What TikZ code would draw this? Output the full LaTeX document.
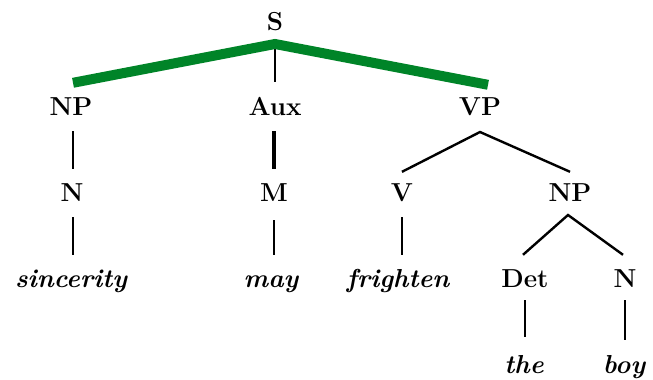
\documentclass[tikz,border=0pt]{standalone}
\usepackage{fontspec}
\definecolor{treegreen}{RGB}{0,132,40}
\begin{document}
\begin{tikzpicture}[x=1pt,y=-1pt,
  lab/.style={font=\fontsize{26}{30}\selectfont\bfseries, text height=17pt, text depth=0pt, inner sep=0pt, anchor=base},
  word/.style={font=\fontsize{26}{30}\selectfont\bfseries\itshape, text height=17pt, text depth=0pt, inner sep=0pt, anchor=base},
  bar/.style={line width=2.2pt, shorten <=16pt, shorten >=15pt},
  branch/.style={line width=2.4pt, line join=miter},
  greenline/.style={treegreen, line width=10pt, line join=miter}]
\useasboundingbox (0,0) rectangle (653,380);
% nodes
\node[lab] (s) at (275,30) {S};
\node[lab] (np1) at (71,115) {NP};
\node[lab] (aux) at (275,115) {Aux};
\node[lab] (vp) at (480,115) {VP};
\node[lab] (n1) at (72,201) {N};
\node[lab] (m) at (274,201) {M};
\node[lab] (v) at (402,201) {V};
\node[lab] (np2) at (570,201) {NP};
\node[word] (sinc) at (71,287) {sincerity};
\node[word] (may) at (271,287) {may};
\node[word] (fri) at (398,287) {frighten};
\node[lab] (det) at (525,287) {Det};
\node[lab] (n2) at (625,287) {N};
\node[word] (the) at (524,373) {the};
\node[word] (boy) at (624,373) {boy};
% junctions
\coordinate (sj) at (275,44);
\coordinate (vpj) at (480,132);
\coordinate (npj) at (568,215);
% S level
\draw[line width=1.6pt] (sj) -- ([yshift=16pt]aux.north);
\draw[greenline] ([xshift=2pt,yshift=15pt]np1.north) -- (sj) -- ([xshift=8pt,yshift=13pt]vp.north);
% bars
\draw[bar] ([xshift=1pt]n1.south |- np1.south) -- ([xshift=1pt]n1.north);
\draw[bar] ([xshift=1pt]n1.south) -- ([xshift=1pt]n1.south |- sinc.north);
\draw[bar, line width=3.4pt] (m.south |- aux.south) -- (m.north);
\draw[bar, shorten <=19pt] (m.south) -- (m.south |- may.north);
\draw[bar] (v.south) -- (v.south |- fri.north);
\draw[bar, shorten <=13pt, shorten >=19pt] (det.south) -- (det.south |- the.north);
\draw[bar, shorten <=13pt, shorten >=16pt] (n2.south) -- (n2.south |- boy.north);
% branches
\draw[branch] ([yshift=12pt]v.north) -- (vpj) -- ([yshift=12pt]np2.north);
\draw[branch] ([xshift=-2pt,yshift=15pt]det.north) -- (npj) -- ([xshift=-2pt,yshift=15pt]n2.north);
\end{tikzpicture}
\end{document}
